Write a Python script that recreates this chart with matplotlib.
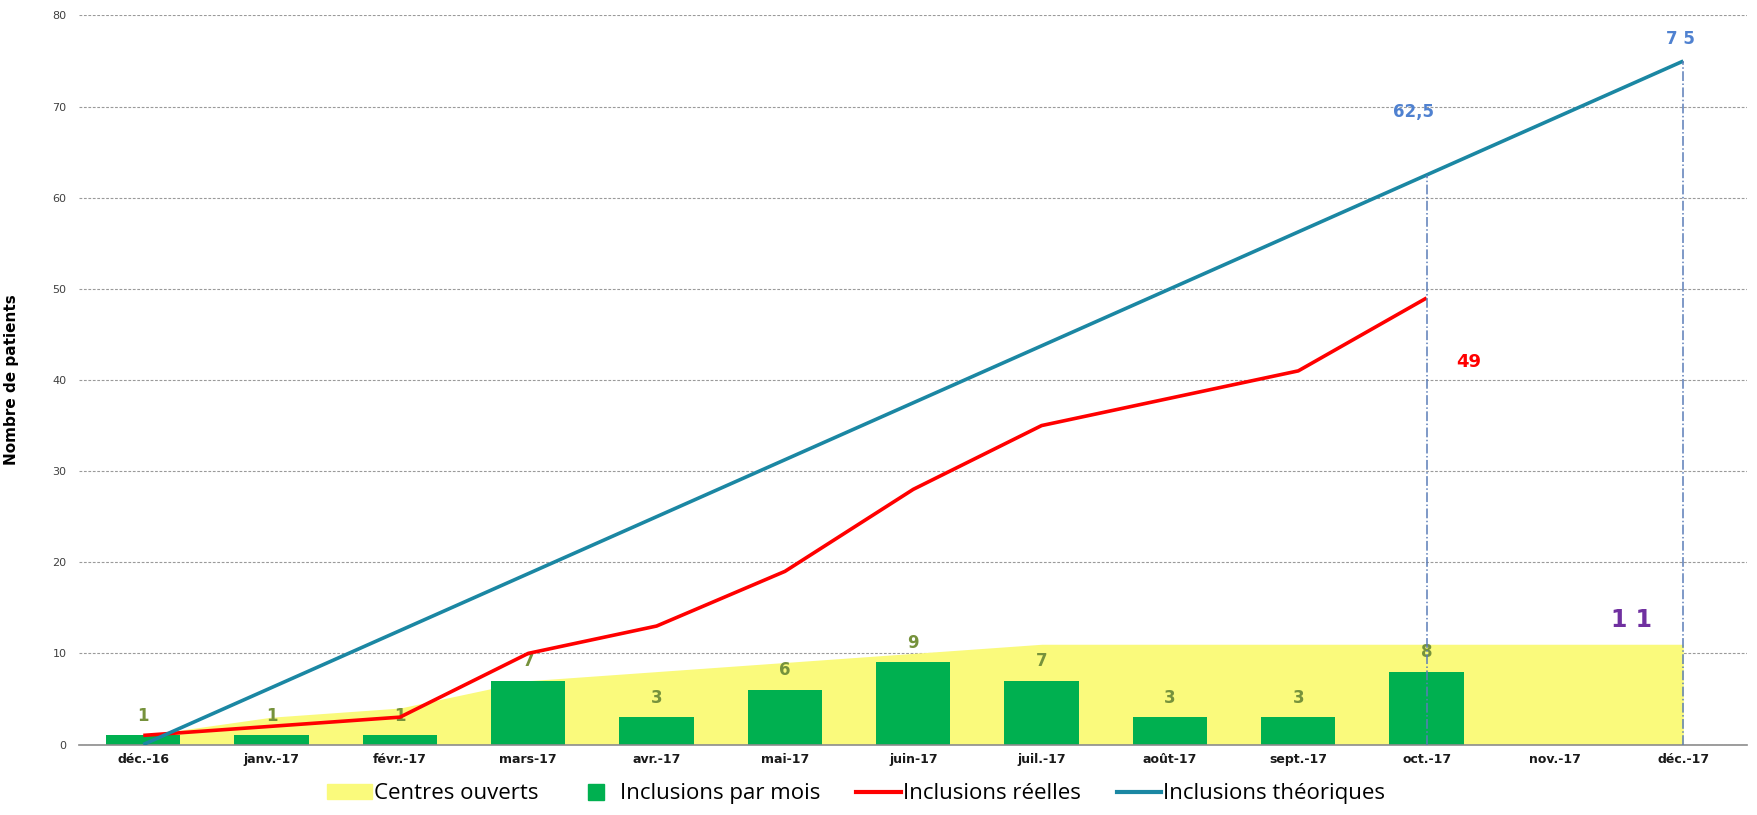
import matplotlib
matplotlib.use("Agg")
from matplotlib import pyplot as plt
from matplotlib.lines import Line2D
from matplotlib.patches import Patch

# Données mensuelles
mois = ['déc.-16', 'janv.-17', 'févr.-17', 'mars-17', 'avr.-17', 'mai-17', 'juin-17',
        'juil.-17', 'août-17', 'sept.-17', 'oct.-17', 'nov.-17', 'déc.-17']
centres_ouverts = [1, 3, 4, 7, 8, 9, 10, 11, 11, 11, 11, 11, 11]
inclusions_mois = [1, 1, 1, 7, 3, 6, 9, 7, 3, 3, 8]
inclusions_reelles = [1, 2, 3, 10, 13, 19, 28, 35, 38, 41, 49]
inclusions_theoriques = [0, 6.25, 12.5, 18.75, 25, 31.25, 37.5, 43.75, 50, 56.25, 62.5, 68.75, 75]

x = list(range(len(mois)))

fig = plt.figure(figsize=(17.58, 8.15), dpi=100)
ax = fig.add_axes([0.045, 0.0865, 0.949, 0.8945])

# zone des centres ouverts
ax.fill_between(x, centres_ouverts, 0, color='#FAFA7C', lw=0, zorder=1)

# barres des inclusions par mois
xb = x[:len(inclusions_mois)]
ax.bar(xb, inclusions_mois, width=0.58, color='#00B050', zorder=2)
for xi, v in zip(xb, inclusions_mois):
    ax.annotate(str(v), (xi, v), xytext=(0, 14), textcoords='offset points',
                ha='center', va='center', fontsize=12, fontweight='bold',
                color='#76923C', zorder=2.5)

# courbes
ax.plot(x[:len(inclusions_reelles)], inclusions_reelles, color='#FF0000', lw=2.6,
        zorder=4, solid_capstyle='butt')
ax.plot(x, inclusions_theoriques, color='#1B87A3', lw=2.6, zorder=5,
        solid_capstyle='butt')

# lignes de rappel
for i in (10, 12):
    ax.plot([i, i], [0, inclusions_theoriques[i]], color='#5B7DB8', lw=1.1,
            ls='-.', zorder=6)

ax.text(9.9, 69.4, '62,5', color='#4F81D0', fontsize=12, fontweight='bold',
        ha='center', va='center')
ax.text(11.98, 77.4, '7 5', color='#4F81D0', fontsize=12, fontweight='bold',
        ha='center', va='center')
ax.text(10.33, 42.0, str(inclusions_reelles[-1]), color='#FF0000', fontsize=13,
        fontweight='bold', ha='center', va='center')
ax.text(11.6, 13.7, '1 1', color='#7030A0', fontsize=17, fontweight='bold',
        ha='center', va='center')

# axes
ax.set_xlim(-0.5, 12.5)
ax.set_ylim(0, 80)
ax.set_yticks(range(0, 81, 10))
ax.set_xticks(x)
ax.set_xticklabels(mois, fontsize=9, fontweight='bold', color='#1a1a1a')
ax.tick_params(axis='y', length=0, pad=9, labelsize=8, labelcolor='#404040')
ax.tick_params(axis='x', length=0, pad=6)
ax.grid(axis='y', ls=(0, (2.5, 1.5)), color='#9a9a9a', lw=0.8)
ax.set_axisbelow(True)
for s in ('left', 'right', 'top'):
    ax.spines[s].set_visible(False)
ax.spines['bottom'].set_color('#8c8c8c')
ax.spines['bottom'].set_linewidth(1.2)

ax.set_ylabel('Nombre de patients', fontsize=11, fontweight='bold')
ax.yaxis.set_label_coords(-0.036, 0.5)

handles = [
    Patch(color='#FAFA7C', label='Centres ouverts'),
    Line2D([], [], ls='none', marker='s', markersize=12, color='#00B050',
           label='Inclusions par mois'),
    Line2D([], [], color='#FF0000', lw=3, label='Inclusions réelles'),
    Line2D([], [], color='#1B87A3', lw=3, label='Inclusions théoriques'),
]
fig.legend(handles=handles, loc='center', bbox_to_anchor=(0.487, 0.026), ncol=4,
           frameon=False, prop={'family': 'Open Sans', 'size': 16},
           handlelength=2.0, handletextpad=0.1, columnspacing=1.6)

fig.savefig('out.png', dpi=100)
